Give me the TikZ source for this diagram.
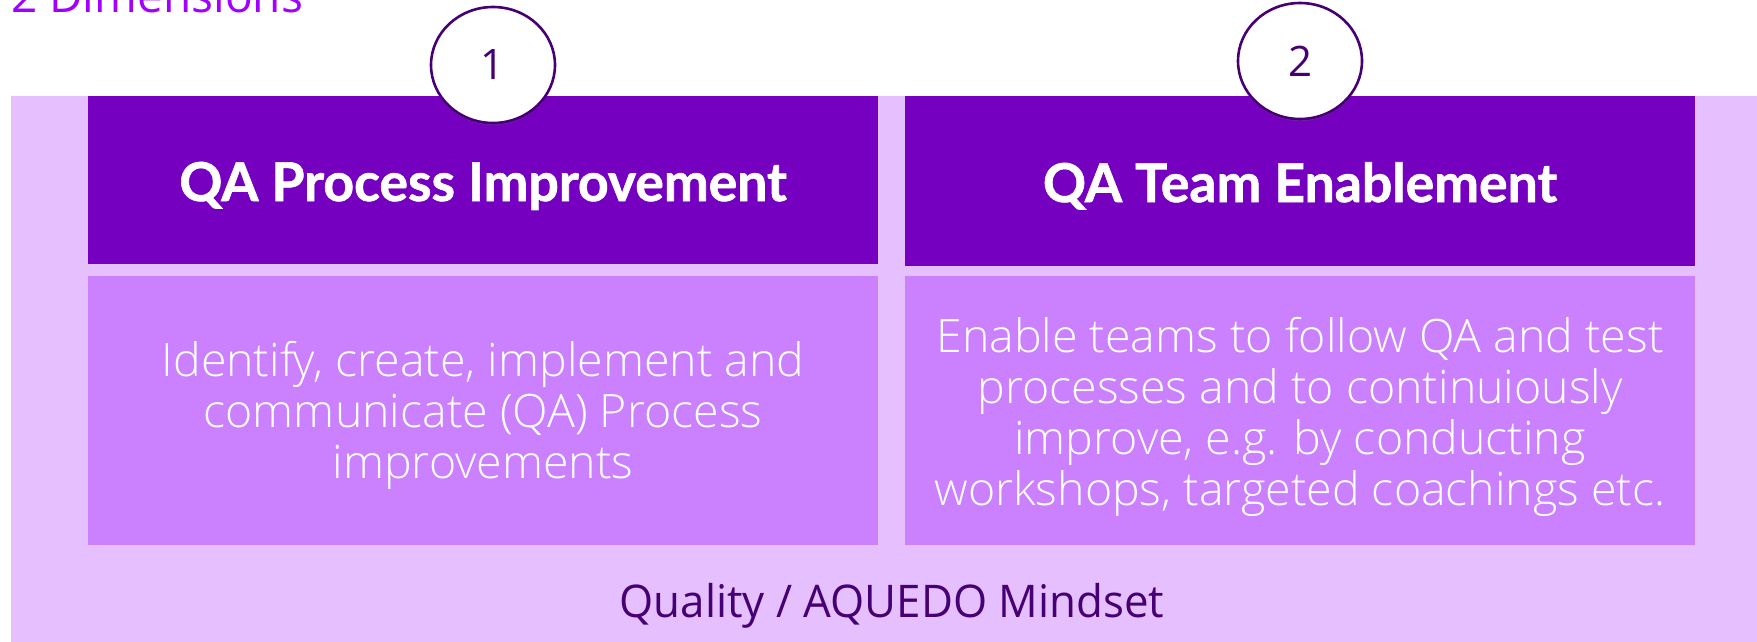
\documentclass[tikz,border=0pt]{standalone}
\usepackage{fontspec}
\setmainfont{Open Sans}
\newfontfamily\headfont{Lato}[BoldFeatures={FakeBold=1.2}]
\newfontfamily\bodyfont{Open Sans Light}[FakeStretch=1.01]
\newfontfamily\mindfont{Open Sans}[FakeStretch=0.975]
\usetikzlibrary{shapes.geometric,shadows}
\definecolor{bgpurple}{HTML}{E6C0FE}
\definecolor{boxpurple}{HTML}{CB80FE}
\definecolor{darkpurple}{HTML}{7500C0}
\definecolor{inkpurple}{HTML}{460073}
\definecolor{titlepurple}{HTML}{A100FF}
\tikzset{
  panel/.style={inner sep=0pt, outer sep=0pt, anchor=north west, draw=none},
  headtext/.style={text=white, font=\headfont\bfseries\fontsize{53.5}{58}\selectfont, anchor=base, inner sep=0pt},
  bodytext/.style={text=white, font=\bodyfont\fontsize{46}{51}\selectfont, align=center, inner sep=0pt},
  numbadge/.style={ellipse, draw=inkpurple, line width=2.6pt, fill=white,
     minimum width=124pt, minimum height=116pt, inner sep=0pt,
     text=inkpurple, font=\fontsize{42}{48}\selectfont,
     drop shadow={opacity=0.25, shadow xshift=0pt, shadow yshift=-2pt}},
}
\begin{document}
\begin{tikzpicture}[x=1pt,y=-1pt]
\useasboundingbox (0,0) rectangle (1757,642);
% background band
\node[panel, fill=bgpurple, minimum width=1746pt, minimum height=546pt] (bg) at (11,96) {};
% title
\node[anchor=base west, inner sep=0pt, text=titlepurple, font=\fontsize{46}{52}\selectfont] (title) at (11,13) {2 Dimensions};
% header boxes
\node[panel, fill=darkpurple, minimum width=790pt, minimum height=168pt] (h1) at (88,96) {};
\node[panel, fill=darkpurple, minimum width=790pt, minimum height=170pt] (h2) at (905,96) {};
% body boxes
\node[panel, fill=boxpurple, minimum width=790pt, minimum height=269pt] (b1) at (88,276) {};
\node[panel, fill=boxpurple, minimum width=790pt, minimum height=269pt] (b2) at (905,276) {};
% header texts
\node[headtext] (h1t) at (483,201) {QA Process Improvement};
\node[headtext] (h2t) at (1300,202) {QA Team Enablement};
% body texts
\node[bodytext] (b1t) at (483,415) {Identify, create, implement and\\communicate (QA) Process\\improvements};
\node[bodytext] (b2t) at (1300,417) {Enable teams to follow QA and test\\processes and to continuiously\\improve, e.g. by conducting\\workshops, targeted coachings etc.};
% badges
\node[numbadge] (c1) at (493,65) {\raisebox{-3pt}{1}};
\node[numbadge] (c2) at (1300,61) {\raisebox{-3pt}{2}};
% bottom label
\node[inner sep=0pt, anchor=base, text=inkpurple, font=\mindfont\fontsize{45}{52}\selectfont] (mind) at (892,617) {Quality / AQUEDO Mindset};
\end{tikzpicture}
\end{document}
